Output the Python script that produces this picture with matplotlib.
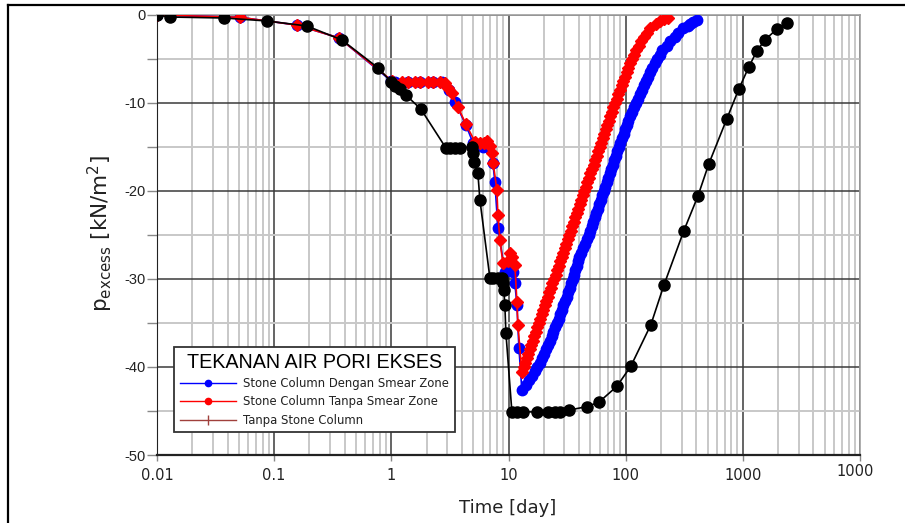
import matplotlib
matplotlib.use('Agg')
import matplotlib.pyplot as plt
from matplotlib.lines import Line2D
from matplotlib.ticker import FixedLocator, NullFormatter
from matplotlib.transforms import Bbox, TransformedBbox

# --- data ---
# Stone Column Dengan Smear Zone (biru): turun lalu naik
t_smear_turun = [0.01, 0.051, 0.156, 0.357, 1.0, 1.073, 1.386, 1.754, 2.264, 2.7, 3.1, 3.49, 4.33,
                 5.0, 5.7, 6.05, 6.6, 7.36, 7.65, 8.12, 9.31, 10.2, 10.9, 11.34, 11.8, 12.27, 13.0]
p_smear_turun = [0, -0.26, -1.14, -2.6, -7.5, -7.6, -7.6, -7.6, -7.6, -7.6, -8.5, -9.9, -12.5,
                 -14.6, -14.8, -15.0, -15.0, -16.8, -19.0, -24.2, -29.2, -28.9, -29.2, -30.5, -33.0, -37.8, -42.6]
t_smear_naik = [14.05, 14.99, 16.0, 16.8, 17.65, 18.5, 19.4, 20.19, 21.02, 21.73, 22.47, 23.32,
                24.21, 25.18, 26.19, 26.97, 27.78, 28.61, 29.46, 30.37, 31.31, 32.31, 33.34, 34.35,
                35.38, 36.29, 37.22, 38.18, 39.17, 40.34, 41.55, 43.26, 45.03, 46.6, 48.23, 49.68,
                51.17, 52.8, 54.49, 56.07, 57.7, 59.36, 61.07, 62.89, 64.76, 66.83, 68.97, 71.04,
                73.17, 75.43, 77.77, 80.17, 82.64, 85.04, 87.5, 90.3, 93.2, 96.15, 99.2, 102.35,
                105.6, 109.2, 112.9, 117.3, 121.9, 126.7, 131.7, 136.8, 142.1, 147.8, 153.8, 160.6,
                167.7, 176.8, 186.4, 194.7, 203.3, 224.7, 241.2, 261.3, 281.1, 307.6, 339.5, 353.0,
                374.5, 405.1]
p_smear_naik = [-42, -41.5, -41, -40.5, -40, -39.5, -39, -38.5, -38, -37.5, -37, -36.5,
                -36, -35.5, -35, -34.5, -34, -33.5, -33, -32.5, -32, -31.5, -31, -30.5,
                -30, -29.5, -29, -28.5, -28, -27.5, -27, -26.5, -26, -25.5, -25, -24.5,
                -24, -23.5, -23, -22.5, -22, -21.5, -21, -20.5, -20, -19.5, -19, -18.5,
                -18, -17.5, -17, -16.5, -16, -15.5, -15, -14.5, -14, -13.5, -13, -12.5,
                -12, -11.5, -11, -10.5, -10, -9.5, -9, -8.5, -8, -7.5, -7, -6.5,
                -6, -5.5, -5, -4.5, -4, -3.5, -3, -2.5, -2, -1.5, -1.2, -1,
                -0.8, -0.57]

# Stone Column Tanpa Smear Zone (merah)
t_merah_turun = [0.01, 0.051, 0.156, 0.357, 1.02, 1.232, 1.386, 1.591, 1.754, 2.052, 2.264, 2.598,
                 2.866, 3.04, 3.29, 3.7, 4.33, 5.17, 5.7, 6.2, 6.54, 6.94, 7.21, 7.4, 7.96, 8.12,
                 8.45, 8.96, 9.88, 10.4, 10.69, 11.34, 11.8, 12.03, 13.0]
p_merah_turun = [0, -0.26, -1.14, -2.6, -7.5, -7.6, -7.6, -7.6, -7.6, -7.6, -7.6, -7.6,
                 -7.7, -8.3, -8.9, -10.45, -12.4, -14.4, -14.6, -14.5, -14.3, -14.9, -15.7, -16.8, -19.9, -22.7,
                 -25.6, -28.2, -28.0, -27.1, -27.5, -28.4, -32.6, -35.2, -40.6]
t_merah_naik = [13.45, 13.87, 14.3, 14.73, 15.17, 15.64, 16.12, 16.6, 17.1, 17.61, 18.14, 18.7,
                19.28, 19.86, 20.45, 21.08, 21.73, 22.38, 23.05, 23.74, 24.45, 25.2, 25.98, 26.76,
                27.56, 28.41, 29.29, 30.17, 31.07, 32.0, 32.96, 33.98, 35.03, 36.07, 37.15, 38.29,
                39.47, 40.66, 41.88, 43.17, 44.51, 45.84, 47.21, 48.62, 50.08, 51.63, 53.22, 54.81,
                56.45, 58.2, 60.0, 61.77, 63.6, 65.52, 67.5, 69.57, 71.7, 73.87, 76.1, 78.46,
                80.9, 83.56, 86.3, 89.25, 92.3, 95.4, 98.6, 101.9, 105.4, 109.5, 113.8, 118.6,
                123.7, 129.3, 135.1, 143.0, 151.4, 160.9, 181.1, 195.8, 212.0, 229.2]
p_merah_naik = [-40, -39.5, -39, -38.5, -38, -37.5, -37, -36.5, -36, -35.5, -35, -34.5,
                -34, -33.5, -33, -32.5, -32, -31.5, -31, -30.5, -30, -29.5, -29, -28.5,
                -28, -27.5, -27, -26.5, -26, -25.5, -25, -24.5, -24, -23.5, -23, -22.5,
                -22, -21.5, -21, -20.5, -20, -19.5, -19, -18.5, -18, -17.5, -17, -16.5,
                -16, -15.5, -15, -14.5, -14, -13.5, -13, -12.5, -12, -11.5, -11, -10.5,
                -10, -9.5, -9, -8.5, -8, -7.5, -7, -6.5, -6, -5.5, -5, -4.5,
                -4, -3.5, -3, -2.5, -2, -1.5, -1, -0.7, -0.5, -0.34]

# Tanpa Stone Column (hitam)
t_tanpa_sc = [0.01, 0.0129, 0.0373, 0.0869, 0.1905, 0.379, 0.769, 1.0, 1.073, 1.184, 1.332, 1.789,
              2.92, 3.16, 3.49, 3.85, 4.87, 4.97, 5.07, 5.48, 5.7, 6.94, 7.36, 8.12, 8.78, 8.96,
              9.14, 9.31, 9.5, 10.69, 11.8, 13.3, 17.5, 21.7, 24.9, 27.5, 32.8, 46.7, 59.1, 84.1,
              110.8, 164, 212, 314, 413, 513, 730, 925, 1125, 1316, 1541, 1951, 2373]
p_tanpa_sc = [0, -0.23, -0.34, -0.68, -1.25, -2.84, -6.0, -7.6, -8.07, -8.4, -9.1, -10.7,
              -15.1, -15.1, -15.1, -15.1, -15.0, -15.7, -16.7, -18.0, -21.0, -29.9, -29.9, -29.9, -29.9, -30.5,
              -31.25, -33.0, -36.1, -45.1, -45.1, -45.1, -45.1, -45.1, -45.1, -45.1, -44.9, -44.5, -44.0, -42.2,
              -39.9, -35.2, -30.7, -24.5, -20.6, -16.9, -11.8, -8.4, -5.9, -4.1, -2.84, -1.6, -0.9]

x_ticks = [0.01, 0.1, 1, 10, 100, 1000, 10000]
x_labels = ['0.01', '0.1', '1', '10', '100', '1000', '']
y_ticks = [0, -10, -20, -30, -40, -50]
y_labels = ['0', '-10', '-20', '-30', '-40', '-50']

legend_labels = ['Stone Column Dengan Smear Zone', 'Stone Column Tanpa Smear Zone', 'Tanpa Stone Column']

W, H = 905, 523
fig = plt.figure(figsize=(W / 100, H / 100), dpi=100)
ax = fig.add_axes([157 / W, 1 - 455 / H, (860 - 157) / W, (455 - 15) / H])

ax.plot(t_smear_turun + t_smear_naik, p_smear_turun + p_smear_naik, '-o', color='blue',
        ms=7.5, lw=1.2, zorder=3)
ax.plot(t_merah_turun + t_merah_naik, p_merah_turun + p_merah_naik, '-D', color='red',
        ms=6, lw=1.2, zorder=4)
ax.plot(t_tanpa_sc, p_tanpa_sc, '-o', color='black', ms=8, lw=1.2, zorder=5)

ax.set_xscale('log')
ax.set_xlim(0.01, 10000)
ax.set_ylim(-50, 0)

ax.xaxis.set_major_locator(FixedLocator(x_ticks))
ax.xaxis.set_ticklabels(x_labels)
minor_x = [m * 10.0 ** e for e in range(-2, 4) for m in range(2, 10)]
ax.xaxis.set_minor_locator(FixedLocator(minor_x))
ax.xaxis.set_minor_formatter(NullFormatter())
ax.yaxis.set_major_locator(FixedLocator(y_ticks))
ax.yaxis.set_ticklabels(y_labels)
ax.yaxis.set_minor_locator(FixedLocator([-5, -15, -25, -35, -45]))

ax.set_axisbelow(True)
ax.grid(which='minor', color='#c8c8c8', lw=1.4)
ax.grid(which='major', color='#3a3a3a', lw=1.1)

for s in ['top', 'right']:
    ax.spines[s].set_color('#a0a0a0')
    ax.spines[s].set_linewidth(1.2)
ax.spines['left'].set_color('#222222')
ax.spines['bottom'].set_color('#222222')
ax.spines['bottom'].set_linewidth(1.6)

ax.tick_params(axis='x', which='major', length=4, width=1, color='#888888', pad=5,
               labelsize=10.5, labelcolor='#222222')
ax.tick_params(axis='x', which='minor', length=0)
ax.tick_params(axis='y', which='both', length=7, width=1, color='#888888', pad=1,
               labelsize=10.5, labelcolor='#222222')
for lab in ax.get_yticklabels():
    lab.set_family('Liberation Sans')

# last x label is cut by the picture edge in the original
t = fig.text(860 / W, 1 - 471 / H, '10000', ha='center', va='center', fontsize=10.5, color='#222222')
t.set_clip_box(TransformedBbox(Bbox([[0, 0], [873 / W, 1]]), fig.transFigure))
t.set_clip_on(True)

fig.text(508 / W, 1 - 508 / H, 'Time [day]', ha='center', va='center', fontsize=13, color='#222222')
fig.text(100 / W, 1 - 234 / H, r'p$_{\mathregular{excess}}$ [kN/m$^{\mathregular{2}}$]', rotation=90,
         ha='center', va='center', fontsize=15.5, color='#222222')

handles = [Line2D([], [], color='blue', marker='o', ms=4.5, lw=1),
           Line2D([], [], color='red', marker='o', ms=4.5, lw=1),
           Line2D([], [], color='#a0403c', marker='|', ms=7, lw=1)]
leg = ax.legend(handles, legend_labels, title='TEKANAN AIR PORI EKSES', loc='upper left',
                bbox_to_anchor=((174 - 157) / 703, 1 - (347 - 15) / 440), fancybox=False,
                edgecolor='#333333', framealpha=1, prop={'family': 'DejaVu Sans', 'size': 8.4},
                title_fontproperties={'family': 'Liberation Sans', 'size': 14.2},
                handlelength=4.8, handletextpad=0.6, labelspacing=0.45, borderpad=0.5,
                borderaxespad=0)
leg.get_frame().set_linewidth(1.3)
leg.set_zorder(10)
for txt in leg.get_texts():
    txt.set_color('#222222')

# outer frame of the screenshot
fig.add_artist(Line2D([8 / W, 8 / W], [0, 1 - 5 / H], color='black', lw=1.6, transform=fig.transFigure))
fig.add_artist(Line2D([8 / W, 1], [1 - 5 / H, 1 - 5 / H], color='black', lw=1.6, transform=fig.transFigure))

plt.savefig('out.png', dpi=100)
